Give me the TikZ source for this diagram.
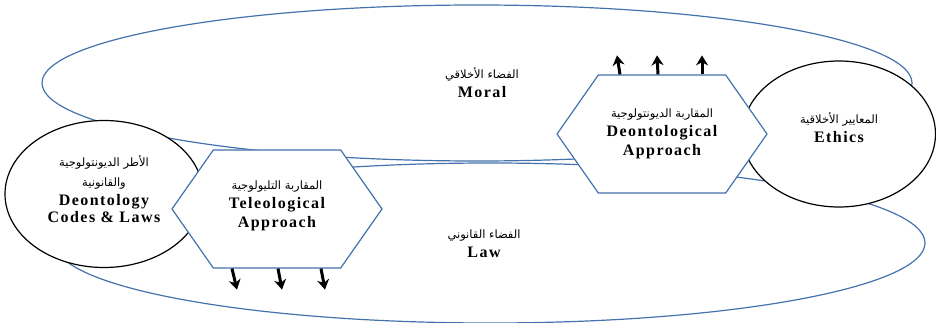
\documentclass[tikz,border=0pt]{standalone}
\usepackage{fontspec}
\setmainfont{Liberation Serif}
\newfontfamily\arabicfont[Script=Arabic]{DejaVu Sans}
\newfontfamily\spacedfont[LetterSpace=9]{Liberation Serif}
\TeXXeTstate=1
\usetikzlibrary{arrows.meta,shapes.geometric,shapes.symbols}
\definecolor{loopblue}{RGB}{68,114,172}

\newcommand{\arline}[1]{{\arabicfont\fontsize{11.5}{13}\selectfont\beginR #1\endR}}
\newcommand{\enline}[1]{{\spacedfont\bfseries #1}}

\tikzset{
  spaceloop/.style={draw=loopblue,line width=1.2pt},
  normcircle/.style={ellipse,draw=black,fill=white,line width=1.2pt,align=center,inner sep=0pt},
  hexbox/.style={signal,signal to=east and west,signal pointer angle=110,draw=loopblue,fill=white,line width=1.2pt,align=center,inner sep=0pt,minimum width=210pt,minimum height=118pt},
  labeltext/.style={align=center,inner sep=0pt},
  thickarrow/.style={-{Stealth[length=10pt,width=12pt]},line width=3pt,black}
}

\begin{document}
\begin{tikzpicture}[x=1pt,y=-1pt,font=\fontsize{16}{19}\selectfont]
                \useasboundingbox (0,0) rectangle (936,323);

                % the two spaces
                \draw[spaceloop] (477,83) ellipse [x radius=435pt, y radius=78pt];
                \draw[spaceloop] (490,243) ellipse [x radius=435pt, y radius=80pt];

                \node[normcircle,minimum width=198pt,minimum height=147pt] (codes) at (104,194)
                    {\arline{الأطر الديونتولوجية}\\[1pt] \arline{والقانونية}\\ \enline{Deontology}\\[-2pt] \enline{Codes \& Laws}\\[-9pt]};
                \node[normcircle,minimum width=193pt,minimum height=146pt] (ethics) at (839,134)
                    {\arline{المعايير الأخلاقية}\\ \enline{Ethics}\\[-7pt]};

                \node[hexbox] (tel) at (277,209)
                    {\arline{المقاربة التليولوجية}\\ \enline{Teleological}\\ \enline{Approach}\\[-10pt]};
                \node[hexbox] (deon) at (662,134)
                    {\arline{المقاربة الديونتولوجية}\\ \enline{Deontological}\\ \enline{Approach}};

                \draw[thickarrow] ([xshift=-45pt]tel.south) -- ++(5,21);
                \draw[thickarrow] ([xshift=1pt]tel.south) -- ++(4,21);
                \draw[thickarrow] ([xshift=44pt]tel.south) -- ++(4,21);

                \draw[thickarrow] ([xshift=-42pt]deon.north) -- ++(-3,-19);
                \draw[thickarrow] ([xshift=-4pt]deon.north) -- ++(-1,-19);
                \draw[thickarrow] ([xshift=40pt]deon.north) -- ++(0,-19);

                \node[labeltext] (moral) at (482,83) {\arline{الفضاء الأخلاقي}\\ \enline{Moral}};
                \node[labeltext] (law) at (484,244) {\arline{الفضاء القانوني}\\ \enline{Law}};
            \end{tikzpicture}
\end{document}
